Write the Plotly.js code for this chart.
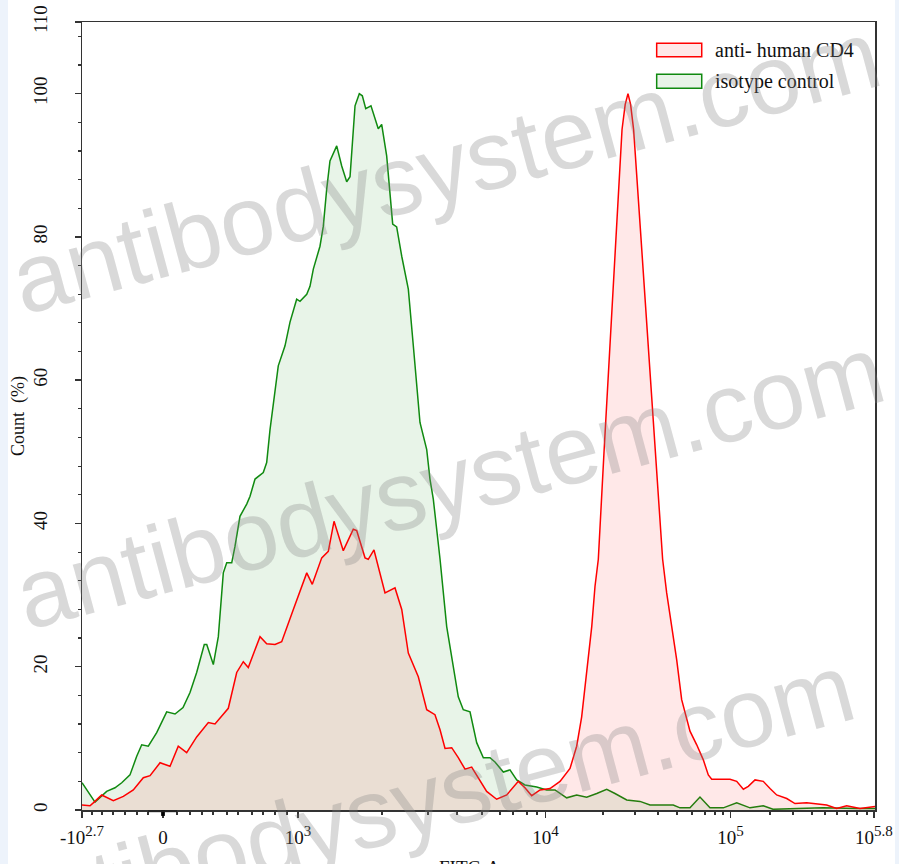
<!DOCTYPE html>
<html>
<head>
<meta charset="utf-8">
<script src="https://cdn.plot.ly/plotly-3.0.1.min.js"></script>
<style>
  html, body { margin: 0; padding: 0; background: #edf3fb; }
  #chart { position: absolute; left: 8px; top: 0; width: 887px; height: 864px; background: #ffffff; }
</style>
</head>
<body>
<div id="chart"></div>
<script>
// Channel scale: 0..1000 across the biexponential FITC-A axis
const xTickPos  = [0, 102.1, 272.4, 584.5, 817.8, 998.7];
const xTickBase = ["-10", "0", "10", "10", "10", "10"];
const xTickExp  = ["2.7", "", "3", "4", "5", "5.8"];
const xMinorPos = [12.6, 25.2, 39.1, 54.2, 69.4, 83.2, 119.8, 136.2, 151.3, 165.2, 182.8, 196.7,
                   214.4, 228.2, 243.4, 258.5, 378.3, 436.3, 472.9, 504.4, 527.1, 543.5, 561.2, 573.8,
                   657.0, 697.4, 726.4, 750.3, 769.2, 785.6, 798.2, 808.3, 867.6, 896.6, 920.6, 937.0,
                   952.1, 964.7, 977.3, 989.9];
const yTickVals = [0, 20, 40, 60, 80, 100, 110];
const xTitle = "FITC-A";
const yTitle = "Count\u00a0 (%)";

const seriesNames = ["anti- human CD4", "isotype control"];

// isotype control (green)
const greenX = [0, 16.4, 31.1, 41.6, 50.1, 60.5, 69.0, 75.3, 83.6, 94.2, 106.8, 117.3, 127.4, 136.2,
  144.6, 154.2, 157.3, 165.6, 171.9, 178.2, 182.5, 188.8, 192.9, 199.2, 207.7, 211.9, 218.2, 228.6,
  232.9, 237.1, 247.5, 256.0, 262.3, 270.7, 274.9, 283.4, 287.5, 291.7, 300.1, 304.3, 308.6, 312.7,
  321.2, 327.5, 333.8, 338.0, 344.3, 349.7, 353.5, 357.8, 364.4, 369.5, 373.6, 377.9, 384.2, 391.8,
  396.8, 403.2, 411.5, 417.8, 426.2, 434.7, 438.8, 443.0, 451.5, 459.9, 467.8, 474.5, 480.8, 489.3,
  497.7, 506.1, 514.5, 520.8, 531.3, 539.7, 548.2, 558.6, 573.4, 586.0, 596.5, 611.2, 623.8, 636.4,
  649.1, 661.7, 672.1, 686.9, 703.7, 716.3, 733.0, 745.6, 754.1, 766.7, 779.3, 791.9, 808.7, 825.6,
  842.4, 859.1, 871.4, 892.8, 934.4, 977.3, 1000];
const greenY = [3.8, 1.1, 2.6, 3.1, 3.8, 4.9, 7.5, 9.1, 8.9, 10.8, 13.7, 13.4, 14.3, 16.4,
  19.2, 23.1, 23.1, 20.3, 24.2, 33.1, 34.5, 34.5, 36.8, 41.0, 42.7, 43.8, 46.2, 47.1,
  48.5, 53.1, 62.0, 64.8, 68.1, 71.3, 71.0, 72.0, 73.1, 75.5, 78.7, 81.5, 86.7, 90.6,
  92.7, 89.9, 87.7, 88.4, 98.3, 100, 99.7, 97.9, 98.3, 96.5, 95.1, 95.7, 91.3, 81.8,
  81.4, 77.3, 72.7, 64.8, 54.1, 50.3, 46.2, 43.4, 35.0, 25.6, 20.6, 15.8, 14.0, 13.7,
  9.4, 7.3, 7.3, 6.7, 5.3, 5.6, 4.2, 3.5, 3.2, 2.8, 2.8, 1.7, 2.1, 1.8,
  2.3, 2.9, 2.3, 1.4, 1.2, 0.7, 0.7, 0.7, 0.3, 0.3, 1.8, 0.3, 0.3, 1.0,
  0.3, 0.6, 0.1, 0.2, 0.3, 0.2, 0.2];

// anti-human CD4 (red)
const redX = [0, 10.1, 14.2, 24.8, 39.5, 52.1, 64.7, 77.3, 85.8, 98.4, 111.0, 121.4, 132.0, 144.6,
  159.3, 167.7, 184.5, 195.1, 203.4, 209.7, 224.5, 232.9, 243.4, 251.8, 266.5, 283.4, 290.4, 302.3,
  310.6, 317.8, 329.5, 342.1, 346.4, 356.9, 361.0, 368.2, 382.1, 394.7, 403.2, 411.5, 424.1, 434.7,
  445.1, 451.5, 457.8, 466.2, 474.5, 483.0, 491.4, 499.7, 510.3, 522.9, 535.6, 550.2, 558.6, 567.1,
  577.6, 590.2, 602.8, 615.4, 623.8, 630.1, 636.4, 642.8, 646.9, 651.1, 658.3, 665.8, 673.4, 681.0,
  685.0, 688.5, 691.8, 695.6, 704.8, 713.9, 723.1, 732.2, 737.3, 741.5, 749.9, 756.2,
  766.7, 775.2, 783.5, 789.8, 794.1, 817.2, 825.6, 834.0, 840.2, 848.7, 859.1, 867.6, 876.0, 888.7,
  899.1, 913.9, 939.0, 951.6, 964.3, 981.1, 1000];
const redY = [0.7, 0.6, 1.0, 2.1, 1.3, 1.9, 2.8, 4.5, 4.8, 6.6, 6.1, 8.9, 8.0, 10.2,
  12.2, 12.0, 14.2, 19.2, 20.7, 19.9, 24.2, 23.2, 23.1, 23.5, 28.0, 33.1, 31.5, 35.2,
  36.1, 40.3, 36.2, 39.2, 39.0, 35.2, 35.0, 36.3, 30.3, 31.0, 28.0, 21.9, 18.6, 14.0,
  13.3, 11.2, 8.6, 8.7, 7.3, 5.7, 6.0, 4.5, 2.6, 1.5, 2.1, 4.0, 3.1, 2.0,
  2.8, 3.0, 4.0, 5.8, 8.9, 13.0, 19.1, 25.6, 31.2, 35.0, 50.0, 65.0, 80.0, 95.0,
  98.5, 100, 98.5, 95.0, 80.0, 65.0, 50.0, 35.0, 30.3, 27.3, 21.0, 15.4,
  11.0, 9.1, 7.0, 4.9, 4.3, 4.3, 4.0, 2.9, 3.3, 4.2, 4.0, 3.0, 2.1, 1.6,
  0.9, 1.0, 0.7, 0.2, 0.6, 0.2, 0.5];

const xTickText = xTickBase.map((b, i) =>
  xTickExp[i] ? b + "<sup><span style='font-size:15px'>" + xTickExp[i] + "</span></sup>" : b);

const serif = "Liberation Serif, Times New Roman, serif";
const redLine = "#ff0000", redFill = "rgba(255,0,0,0.09)";
const greenLine = "#108a10", greenFill = "rgba(0,128,0,0.09)";

const traces = [
  { x: greenX, y: greenY, name: seriesNames[1], type: "scatter", mode: "lines",
    line: { color: greenLine, width: 1.5 }, fill: "tozeroy", fillcolor: greenFill, showlegend: false },
  { x: redX, y: redY, name: seriesNames[0], type: "scatter", mode: "lines",
    line: { color: redLine, width: 1.5 }, fill: "tozeroy", fillcolor: redFill, showlegend: false }
];

const wmFont = { family: "Liberation Sans, Arial, sans-serif", size: 98, color: "rgba(128,128,128,0.3)" };
const wmText = "antibodysystem.com";

const layout = {
  width: 887, height: 864,
  margin: { l: 74, r: 20, t: 22, b: 54 },
  paper_bgcolor: "#ffffff", plot_bgcolor: "#ffffff",
  showlegend: false,
  font: { family: serif, size: 19, color: "#111" },
  xaxis: {
    range: [0, 1000], showgrid: false, zeroline: false,
    tickmode: "array", tickvals: xTickPos, ticktext: xTickText,
    ticks: "outside", ticklen: 6, tickwidth: 1.5, tickcolor: "#333",
    showline: true, linecolor: "#333", linewidth: 1.5, mirror: true,
    tickfont: { family: serif, size: 19, color: "#111" },
    ticklabelstandoff: 4,
    minor: { tickmode: "array", tickvals: xMinorPos, ticks: "outside", ticklen: 3, tickwidth: 1.2, tickcolor: "#333", showgrid: false }
  },
  yaxis: {
    range: [0, 110], showgrid: false, zeroline: false,
    tickmode: "array", tickvals: yTickVals, tickangle: -90,
    ticks: "outside", ticklen: 6, tickwidth: 1.5, tickcolor: "#333",
    showline: true, linecolor: "#333", linewidth: 1.5, mirror: true,
    tickfont: { family: serif, size: 19, color: "#111" },
    ticklabelstandoff: 20,
    minor: { dtick: 4, tick0: 0, ticks: "outside", ticklen: 3, tickwidth: 1.2, tickcolor: "#333", showgrid: false },
    title: { text: yTitle, font: { family: serif, size: 18, color: "#111" }, standoff: 6 }
  },
  shapes: [
    { type: "rect", xref: "paper", yref: "paper", x0: 0.7247, x1: 0.7815, y0: 0.956, y1: 0.973,
      fillcolor: redFill, line: { color: redLine, width: 1.5 } },
    { type: "rect", xref: "paper", yref: "paper", x0: 0.7247, x1: 0.7815, y0: 0.916, y1: 0.9336,
      fillcolor: greenFill, line: { color: greenLine, width: 1.5 } },
    { type: "rect", xref: "x", yref: "paper", x0: 99.8, x1: 104.5, y0: -0.0075, y1: 0,
      fillcolor: "#000", line: { width: 0 } },
    { type: "line", xref: "x", yref: "paper", x0: 83.2, x1: 119.8, y0: -0.0015, y1: -0.0015,
      line: { color: "#222", width: 2 } }
  ],
  annotations: [
    { xref: "paper", yref: "paper", x: 0.7953, y: 0.9645, xanchor: "left", yanchor: "middle",
      text: seriesNames[0], showarrow: false, font: { family: serif, size: 20, color: "#111" } },
    { xref: "paper", yref: "paper", x: 0.7953, y: 0.925, xanchor: "left", yanchor: "middle",
      text: seriesNames[1], showarrow: false, font: { family: serif, size: 20, color: "#111" } },
    { xref: "paper", yref: "paper", x: 0.489, y: -0.0571, xanchor: "center", yanchor: "top",
      text: xTitle, showarrow: false, font: { family: serif, size: 19, color: "#111" } },
    { xref: "paper", yref: "paper", x: 0.458, y: 0.816, text: wmText, showarrow: false,
      textangle: -15, font: wmFont, xanchor: "center", yanchor: "middle" },
    { xref: "paper", yref: "paper", x: 0.464, y: 0.416, text: wmText, showarrow: false,
      textangle: -15, font: wmFont, xanchor: "center", yanchor: "middle" },
    { xref: "paper", yref: "paper", x: 0.426, y: 0.013, text: wmText, showarrow: false,
      textangle: -15, font: wmFont, xanchor: "center", yanchor: "middle" }
  ]
};

Plotly.newPlot("chart", traces, layout, { displayModeBar: false, staticPlot: true });
</script>
</body>
</html>
